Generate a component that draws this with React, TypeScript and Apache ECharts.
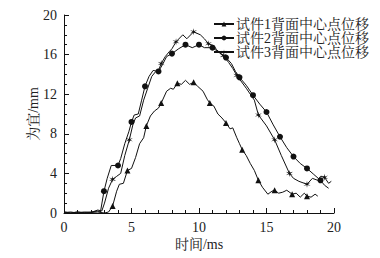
import React, { useEffect, useRef } from "react";
import * as echarts from "echarts";

const seriesNames = ["试件1背面中心点位移", "试件2背面中心点位移", "试件3背面中心点位移"];
const xTicks = [0, 5, 10, 15, 20];
const yTicks = [0, 4, 8, 12, 16, 20];

const s1T = [0, 0.5, 1, 1.5, 2, 2.5, 3, 3.3, 3.6, 3.9, 4.1, 4.4, 4.7, 5.0, 5.3, 5.6, 5.9, 6.1, 6.4, 6.7, 7.0, 7.2, 7.6, 7.9, 8.1, 8.4, 8.7, 9.0, 9.3, 9.6, 9.9, 10.3, 10.6, 10.8, 11.1, 11.4, 11.7, 12.0, 12.3, 12.5, 12.8, 13.0, 13.2, 13.5, 13.8, 14.1, 14.4, 14.7, 15.1, 15.4, 15.6, 15.9, 16.2, 16.5, 16.9, 17.2, 17.5, 17.8, 18.0, 18.3, 18.6, 18.8];
const s1V = [0.1, 0, 0.1, 0, 0.05, 0.1, 0, 0.1, 0.7, 2.2, 2.9, 3.0, 4.3, 4.5, 5.6, 7.0, 7.6, 8.8, 9.8, 10.3, 10.6, 11.1, 12.3, 12.6, 12.5, 13.1, 13.0, 13.4, 13.0, 13.2, 12.8, 12.3, 11.5, 11.1, 10.8, 10.0, 9.6, 9.1, 8.5, 8.6, 7.6, 7.0, 6.4, 5.8, 5.0, 4.3, 3.3, 2.6, 1.9, 2.2, 2.3, 2.0, 2.1, 2.3, 1.9, 2.0, 1.6, 2.0, 1.7, 1.6, 1.9, 1.7];
const s1Marks = [3.6, 4.7, 6.1, 7.2, 8.4, 9.6, 10.8, 12.0, 13.2, 14.4, 15.6, 16.9, 18.0];

const s2T = [0, 0.5, 1, 1.5, 2, 2.5, 2.7, 2.96, 3.2, 3.5, 4.0, 4.2, 4.5, 4.8, 5.0, 5.2, 5.5, 5.75, 6.0, 6.3, 6.6, 7.0, 7.3, 7.6, 8.0, 8.5, 9.0, 9.5, 10.0, 10.4, 11.0, 11.4, 12.0, 12.4, 12.7, 13.0, 13.5, 14.0, 14.5, 15.0, 15.5, 16.0, 16.5, 17.0, 17.5, 18.0, 18.5, 19.0, 19.3, 19.6];
const s2V = [0.1, 0, 0.1, 0.05, 0.1, 0.2, 0.1, 2.2, 3.5, 4.8, 4.8, 5.5, 7.0, 8.2, 9.2, 9.9, 10.0, 11.4, 12.8, 13.8, 14.4, 14.3, 15.0, 15.8, 16.1, 16.6, 17.0, 16.7, 17.0, 16.7, 16.7, 16.3, 15.7, 15.1, 14.3, 13.7, 12.9, 11.9, 11.0, 10.2, 8.9, 7.7, 6.6, 5.7, 5.0, 4.5, 3.9, 3.3, 2.8, 2.5];
const s2Marks = [2.96, 4.0, 5.0, 6.0, 7.0, 8.0, 9.0, 10.0, 11.0, 12.0, 13.0, 14.0, 15.0, 16.0, 17.0, 18.0, 19.0];

const s3T = [0, 0.5, 1, 1.5, 2, 2.5, 2.8, 3.0, 3.3, 3.6, 3.9, 4.2, 4.5, 4.84, 5.1, 5.3, 5.6, 5.9, 6.2, 6.5, 6.8, 7.0, 7.2, 7.5, 7.8, 8.0, 8.3, 8.8, 9.1, 9.6, 10.1, 10.4, 10.7, 11.1, 11.3, 11.8, 12.2, 12.5, 12.8, 13.5, 14.1, 14.4, 15.0, 15.6, 16.1, 16.7, 17.0, 17.4, 18.0, 18.4, 18.8, 19.0, 19.3, 19.6, 19.8];
const s3V = [0.05, 0.1, 0, 0.1, 0.05, 0.3, 0.2, 1.0, 2.5, 3.4, 3.7, 4.0, 5.8, 7.4, 8.9, 9.6, 9.8, 11.4, 12.6, 13.8, 14.3, 14.4, 15.1, 15.8, 16.3, 16.6, 17.3, 18.0, 17.6, 18.3, 18.0, 17.6, 17.1, 16.9, 16.5, 15.9, 15.2, 14.6, 13.9, 12.6, 11.4, 9.9, 8.8, 7.4, 5.8, 4.0, 3.5, 3.2, 2.9, 3.5, 3.3, 3.7, 3.6, 3.0, 3.2];
const s3Marks = [3.6, 4.84, 6.0, 7.2, 8.3, 9.6, 10.7, 11.8, 12.8, 14.4, 15.6, 16.7, 18.0, 19.3];

function starSymbol(): string {
  const pts: string[] = [];
  for (let i = 0; i < 12; i++) {
    const a = (i * Math.PI) / 6 - Math.PI / 2;
    const r = i % 2 === 0 ? 10 : 2.6;
    const x = (10 + r * Math.cos(a)).toFixed(2);
    const y = (10 + r * Math.sin(a)).toFixed(2);
    pts.push((i === 0 ? "M" : "L") + x + " " + y);
  }
  return "path://" + pts.join(" ") + " Z";
}

function buildData(t: number[], v: number[], marks: number[]) {
  return t.map((x, i) => {
    const isMark = marks.some((m) => Math.abs(m - x) < 1e-6);
    return isMark ? { value: [x, v[i]] } : { value: [x, v[i]], symbol: "none" };
  });
}

const FONT = "'Liberation Serif', 'Noto Serif CJK SC', 'Noto Sans CJK SC', serif";

export default function App() {
  const ref = useRef<HTMLDivElement>(null);
  useEffect(() => {
    if (!ref.current) return;
    const chart = echarts.init(ref.current, null, { renderer: "svg" });
    const lineStyle = { color: "#111", width: 1 };
    const itemStyle = { color: "#111" };
    chart.setOption({
      animation: false,
      backgroundColor: "#fff",
      textStyle: { fontFamily: FONT },
      grid: { left: 64, right: 46, top: 15, bottom: 45, containLabel: false },
      legend: {
        orient: "vertical",
        right: 6,
        top: 12,
        itemGap: 0,
        itemWidth: 20,
        itemHeight: 6,
        data: seriesNames,
        textStyle: { fontFamily: FONT, fontSize: 14, color: "#222", padding: [0, 0, 0, -3], lineHeight: 14 },
      },
      xAxis: {
        type: "value",
        min: xTicks[0],
        max: xTicks[xTicks.length - 1],
        interval: 5,
        name: "时间/ms",
        nameLocation: "middle",
        nameGap: 24,
        nameMoveOverlap: false,
        nameTextStyle: { fontFamily: FONT, fontSize: 14, color: "#222" },
        axisLine: { show: true, lineStyle: { color: "#111", width: 1 } },
        axisTick: { show: true, inside: true, length: 5, lineStyle: { color: "#111" } },
        minorTick: { show: true, splitNumber: 5, length: 3, lineStyle: { color: "#111" } },
        splitLine: { show: false },
        axisLabel: { fontFamily: FONT, fontSize: 14, color: "#222", margin: 7 },
      },
      yAxis: {
        type: "value",
        min: yTicks[0],
        max: yTicks[yTicks.length - 1],
        interval: 4,
        name: "为宜/mm",
        nameLocation: "middle",
        nameGap: 24,
        nameMoveOverlap: false,
        nameTextStyle: { fontFamily: FONT, fontSize: 14, color: "#222" },
        axisLine: { show: true, lineStyle: { color: "#111", width: 1 } },
        axisTick: { show: true, inside: true, length: 5, lineStyle: { color: "#111" } },
        minorTick: { show: true, splitNumber: 4, length: 3, lineStyle: { color: "#111" } },
        splitLine: { show: false },
        axisLabel: { fontFamily: FONT, fontSize: 14, color: "#222", margin: 7 },
      },
      series: [
        {
          name: seriesNames[0],
          type: "line",
          symbol: "triangle",
          symbolSize: 6,
          lineStyle,
          itemStyle,
          data: buildData(s1T, s1V, s1Marks),
        },
        {
          name: seriesNames[1],
          type: "line",
          symbol: "circle",
          symbolSize: 6,
          lineStyle,
          itemStyle,
          data: buildData(s2T, s2V, s2Marks),
        },
        {
          name: seriesNames[2],
          type: "line",
          symbol: starSymbol(),
          symbolSize: 7,
          lineStyle,
          itemStyle,
          data: buildData(s3T, s3V, s3Marks),
        },
      ],
    });
    return () => chart.dispose();
  }, []);
  return <div ref={ref} style={{ width: 380, height: 258, position: "absolute", left: 0, top: 0 }} />;
}
